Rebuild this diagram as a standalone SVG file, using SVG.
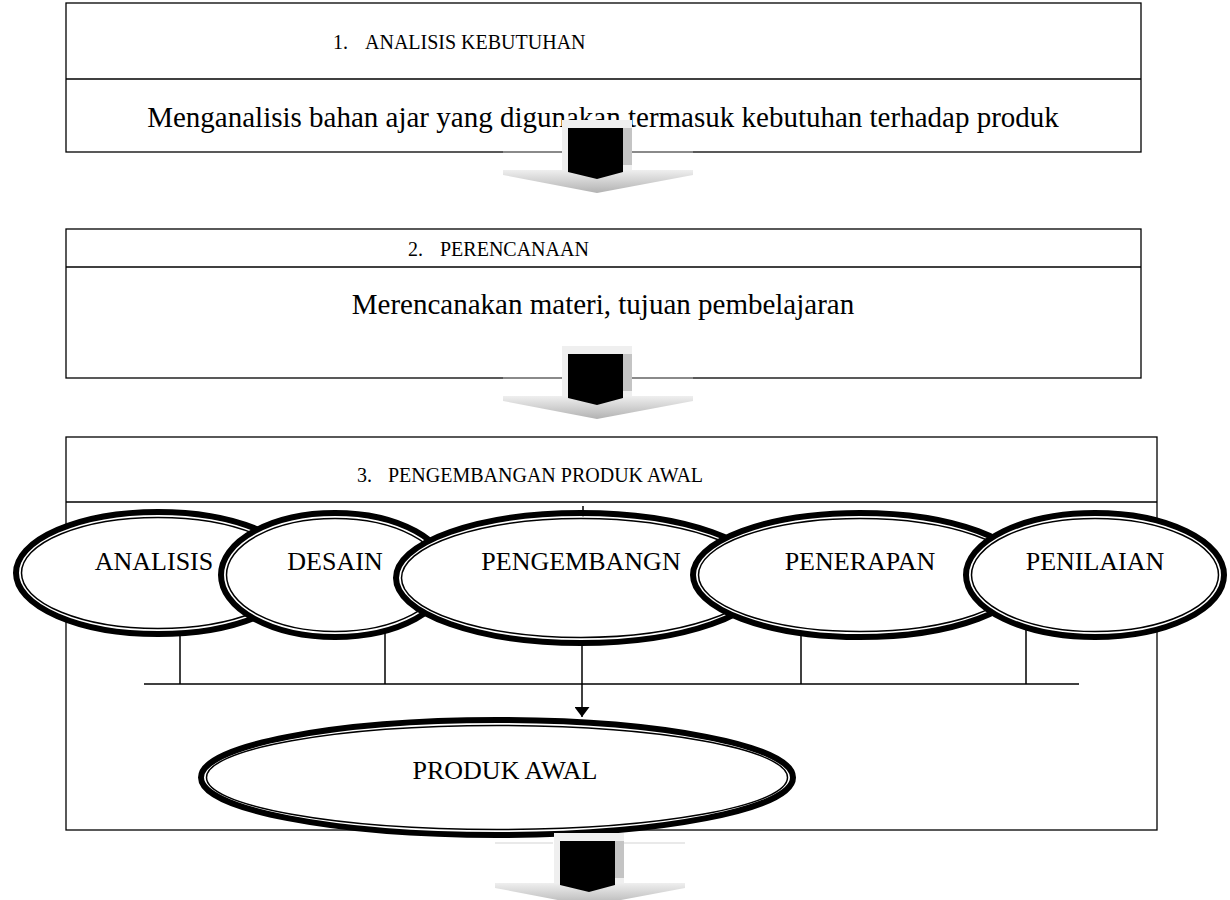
<svg xmlns="http://www.w3.org/2000/svg" width="1230" height="900" viewBox="0 0 1230 900">
<defs>
<style>
.frame{fill:none;stroke:#000;stroke-width:1.3}
.t{font-family:"Liberation Serif","Times New Roman",serif;fill:#000}
.title{font-size:20px}
.sub{font-size:29px;text-anchor:middle}
.lbl{font-size:26px;text-anchor:middle}
.eo{fill:#fff;stroke:#000;stroke-width:6}
.ei{fill:none;stroke:#000;stroke-width:1.5}
.conn{stroke:#000;stroke-width:1.5;fill:none}
.gl{stroke:#8a8a8a;stroke-width:2}
.gl2{stroke:#e2e2e2;stroke-width:1.5}
</style>
<linearGradient id="chev" x1="0" y1="0" x2="0" y2="1">
<stop offset="0" stop-color="#efefef"/>
<stop offset="1" stop-color="#b2b2b2"/>
</linearGradient>
<marker id="ah" viewBox="0 0 10 15" refX="10" refY="7.5" markerWidth="10" markerHeight="15" markerUnits="userSpaceOnUse" orient="auto">
<path d="M0,0 L10,7.5 L0,15 z" fill="#000"/>
</marker>
<g id="blockArrow">
<rect x="562" y="120" width="70" height="50" fill="#efefef"/>
<polygon points="503,170 693,170 693,175 597,193 503,175" fill="url(#chev)"/>
<rect x="623" y="128" width="9" height="37" fill="#c4c4c4"/>
<polygon points="568,128 623,128 623,172 597,179 568,172" fill="#000"/>
</g>
</defs>

<g id="step1">
<rect class="frame" x="66" y="3" width="1075" height="149"/>
<line class="frame" x1="66" y1="79" x2="1141" y2="79"/>
<text class="t title" y="49"><tspan x="333">1.</tspan><tspan x="365">ANALISIS KEBUTUHAN</tspan></text>
<text class="t sub" x="603" y="127">Menganalisis bahan ajar yang digunakan termasuk kebutuhan terhadap produk</text>
</g>

<g id="arrow1">
<line class="gl" x1="503" y1="152" x2="562" y2="152"/>
<line class="gl" x1="632" y1="152" x2="693" y2="152"/>
<use href="#blockArrow"/>
</g>

<g id="step2">
<rect class="frame" x="66" y="229" width="1075" height="149"/>
<line class="frame" x1="66" y1="267" x2="1141" y2="267"/>
<text class="t title" y="256"><tspan x="408">2.</tspan><tspan x="440">PERENCANAAN</tspan></text>
<text class="t sub" x="603" y="314">Merencanakan materi, tujuan pembelajaran</text>
</g>

<g id="arrow2">
<line class="gl" x1="503" y1="378" x2="562" y2="378"/>
<line class="gl" x1="632" y1="378" x2="693" y2="378"/>
<use href="#blockArrow" transform="translate(0,226)"/>
</g>

<g id="step3">
<rect class="frame" x="66" y="437" width="1091" height="393"/>
<line class="frame" x1="66" y1="502" x2="1157" y2="502"/>
<text class="t title" y="482"><tspan x="357">3.</tspan><tspan x="388">PENGEMBANGAN PRODUK AWAL</tspan></text>
</g>

<g id="connectors">
<line class="conn" x1="180" y1="625" x2="180" y2="684"/>
<line class="conn" x1="385" y1="625" x2="385" y2="684"/>
<line class="conn" x1="801" y1="625" x2="801" y2="684"/>
<line class="conn" x1="1026" y1="625" x2="1026" y2="684"/>
<line class="conn" x1="144" y1="684" x2="1079" y2="684"/>
<line class="conn" x1="582" y1="630" x2="582" y2="717" marker-end="url(#ah)"/>
</g>

<g id="analisis">
<ellipse class="eo" cx="158" cy="573" rx="142" ry="61"/>
<ellipse class="ei" cx="158" cy="573" rx="136.5" ry="55.5"/>
<text class="t lbl" x="154" y="570">ANALISIS</text>
</g>
<g id="desain">
<ellipse class="eo" cx="335" cy="575" rx="114" ry="62"/>
<ellipse class="ei" cx="335" cy="575" rx="108.5" ry="56.5"/>
<text class="t lbl" x="335" y="570">DESAIN</text>
</g>
<g id="pengembangn">
<ellipse class="eo" cx="581" cy="578" rx="185" ry="65"/>
<ellipse class="ei" cx="581" cy="578" rx="179.5" ry="59.5"/>
<text class="t lbl" x="581" y="570">PENGEMBANGN</text>
<path class="conn" d="M583,506 V515" stroke-width="1"/>
<path d="M580.5,512 L583,517 L585.5,512 z" fill="#000"/>
</g>
<g id="penerapan">
<ellipse class="eo" cx="860" cy="575" rx="167" ry="62"/>
<ellipse class="ei" cx="860" cy="575" rx="161.5" ry="56.5"/>
<text class="t lbl" x="860" y="570">PENERAPAN</text>
</g>
<g id="penilaian">
<ellipse class="eo" cx="1095" cy="575" rx="129" ry="62"/>
<ellipse class="ei" cx="1095" cy="575" rx="123.5" ry="56.5"/>
<text class="t lbl" x="1095" y="570">PENILAIAN</text>
</g>
<g id="produk-awal">
<ellipse class="eo" cx="497" cy="777.5" rx="296" ry="57.5"/>
<ellipse class="ei" cx="497" cy="777.5" rx="290.5" ry="52"/>
<text class="t lbl" x="505" y="779">PRODUK AWAL</text>
</g>

<g id="arrow3">
<line class="gl2" x1="495" y1="843" x2="553" y2="843"/>
<line class="gl2" x1="623" y1="843" x2="685" y2="843"/>
<use href="#blockArrow" transform="translate(-8,713)"/>
</g>
</svg>
